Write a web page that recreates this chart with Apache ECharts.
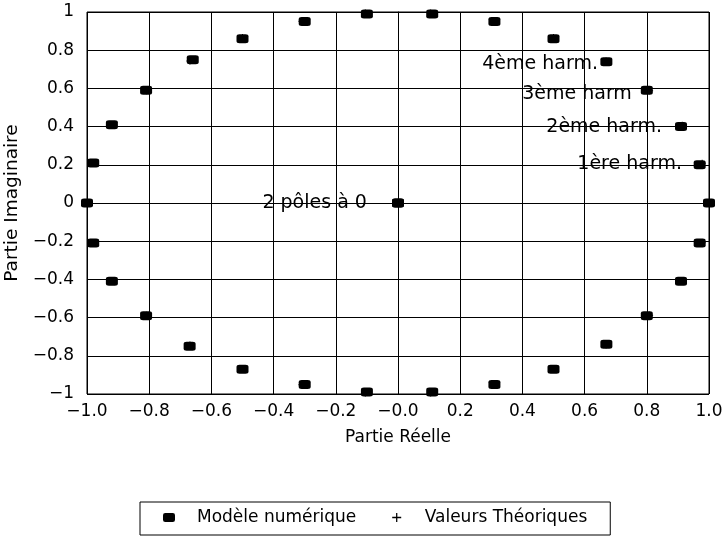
<!DOCTYPE html>
<html>
<head>
<meta charset="utf-8">
<script src="https://cdn.jsdelivr.net/npm/echarts@6/dist/echarts.min.js"></script>
<style>html,body{margin:0;padding:0;background:#fff}#c{width:723px;height:540px}</style>
</head>
<body>
<div id="c"></div>
<script>
// Modèle numérique
var numX = [1.00, 0.97, 0.91, 0.80, 0.67, 0.50, 0.31, 0.11, -0.10, -0.30, -0.50, -0.66, -0.81, -0.92, -0.98, -1.00,
            -0.98, -0.92, -0.81, -0.67, -0.50, -0.30, -0.10, 0.11, 0.31, 0.50, 0.67, 0.80, 0.91, 0.97, 0.00, 0.00];
var numY = [0.00, 0.20, 0.40, 0.59, 0.74, 0.86, 0.95, 0.99, 0.99, 0.95, 0.86, 0.75, 0.59, 0.41, 0.21, 0.00,
            -0.21, -0.41, -0.59, -0.75, -0.87, -0.95, -0.99, -0.99, -0.95, -0.87, -0.74, -0.59, -0.41, -0.21, 0.00, 0.00];
// Valeurs Théoriques
var thX = [1.000, 0.978, 0.914, 0.809, 0.669, 0.500, 0.309, 0.105, -0.105, -0.309, -0.500, -0.669, -0.809, -0.914, -0.978, -1.000,
           -0.978, -0.914, -0.809, -0.669, -0.500, -0.309, -0.105, 0.105, 0.309, 0.500, 0.669, 0.809, 0.914, 0.978, 0.000, 0.000];
var thY = [0.000, 0.208, 0.407, 0.588, 0.743, 0.866, 0.951, 0.995, 0.995, 0.951, 0.866, 0.743, 0.588, 0.407, 0.208, 0.000,
           -0.208, -0.407, -0.588, -0.743, -0.866, -0.951, -0.995, -0.995, -0.951, -0.866, -0.743, -0.588, -0.407, -0.208, 0.000, 0.000];
// annotations (text, anchor in data coordinates: right edge, vertical middle)
var annText = ['4ème harm.', '3ème harm', '2ème harm.', '1ère harm.', '2 pôles à 0'];
var annX = [0.643, 0.752, 0.849, 0.913, -0.10];
var annY = [0.728, 0.571, 0.398, 0.204, 0.00];
var seriesNames = ['Modèle numérique', 'Valeurs Théoriques'];
var xTitle = 'Partie Réelle';
var yTitle = 'Partie Imaginaire';

var FONT = 'DejaVu Sans';
function zip(a, b) { return a.map(function (v, i) { return [v, b[i]]; }); }
function fmtX(v) { var r = Math.round(v * 10) / 10; return (r <= 0 ? '\u2212' : '') + Math.abs(r).toFixed(1); }
function fmtY(v) { var r = Math.round(v * 10) / 10; return (r < 0 ? '\u2212' : '') + String(Math.abs(r)); }
var plusPath = 'path://M4.3,0 L5.7,0 L5.7,4.3 L10,4.3 L10,5.7 L5.7,5.7 L5.7,10 L4.3,10 L4.3,5.7 L0,5.7 L0,4.3 L4.3,4.3 Z';

var chart = echarts.init(document.getElementById('c'), null, { renderer: 'canvas' });
chart.setOption({
  animation: false,
  backgroundColor: '#fff',
  textStyle: { fontFamily: FONT, color: '#000' },
  grid: { left: 87, right: 14, top: 12, bottom: 146, show: true, borderColor: '#000', borderWidth: 1,
          containLabel: false, outerBoundsMode: 'none' },
  xAxis: {
    type: 'value', min: -1, max: 1, interval: 0.2,
    name: xTitle, nameLocation: 'middle', nameGap: 35,
    nameTextStyle: { fontFamily: FONT, fontSize: 17, color: '#000' },
    axisLine: { show: true, lineStyle: { color: '#000', width: 1 } },
    axisTick: { show: true, inside: false, length: 4, lineStyle: { color: '#000' } },
    axisLabel: { formatter: fmtX, fontFamily: FONT, fontSize: 17, color: '#000', margin: 9 },
    splitLine: { show: true, lineStyle: { color: '#000', width: 1 } }
  },
  yAxis: {
    type: 'value', min: -1, max: 1, interval: 0.2,
    name: yTitle, nameLocation: 'middle', nameGap: 59, nameRotate: 90,
    nameTextStyle: { fontFamily: FONT, fontSize: 18.5, color: '#000' },
    axisLine: { show: true, lineStyle: { color: '#000', width: 1 } },
    axisTick: { show: true, inside: false, length: 5, lineStyle: { color: '#000' } },
    axisLabel: { formatter: fmtY, fontFamily: FONT, fontSize: 17, color: '#000', margin: 13 },
    splitLine: { show: true, lineStyle: { color: '#000', width: 1 } }
  },
  legend: {
    data: [
      { name: seriesNames[0], icon: 'roundRect', itemStyle: { color: '#000', opacity: 1 } },
      { name: seriesNames[1], icon: plusPath, itemStyle: { color: '#000', opacity: 1 } }
    ],
    left: 140, top: 502, orient: 'horizontal',
    padding: [7, 23, 9, 23],
    itemWidth: 12, itemHeight: 9, itemGap: 36,
    borderColor: '#000', borderWidth: 1,
    textStyle: { fontFamily: FONT, fontSize: 17, color: '#000', padding: [0, 0, 0, 17] }
  },
  series: [
    {
      name: seriesNames[1], type: 'scatter', z: 2,
      symbol: plusPath, symbolSize: 7,
      itemStyle: { color: '#000', opacity: 1 },
      data: zip(thX, thY)
    },
    {
      name: seriesNames[0], type: 'scatter', z: 3,
      symbol: 'roundRect', symbolSize: [12, 9],
      itemStyle: { color: '#000', opacity: 1 },
      data: zip(numX, numY)
    },
    {
      name: 'annotations', type: 'scatter', z: 4, silent: true,
      symbolSize: 0,
      itemStyle: { opacity: 1 },
      data: annText.map(function (t, i) { return { name: t, value: [annX[i], annY[i]] }; }),
      label: {
        show: true, position: 'left', distance: 0, opacity: 1,
        formatter: function (p) { return p.name; },
        fontFamily: FONT, fontSize: 19, color: '#000'
      }
    }
  ]
});
</script>
</body>
</html>
